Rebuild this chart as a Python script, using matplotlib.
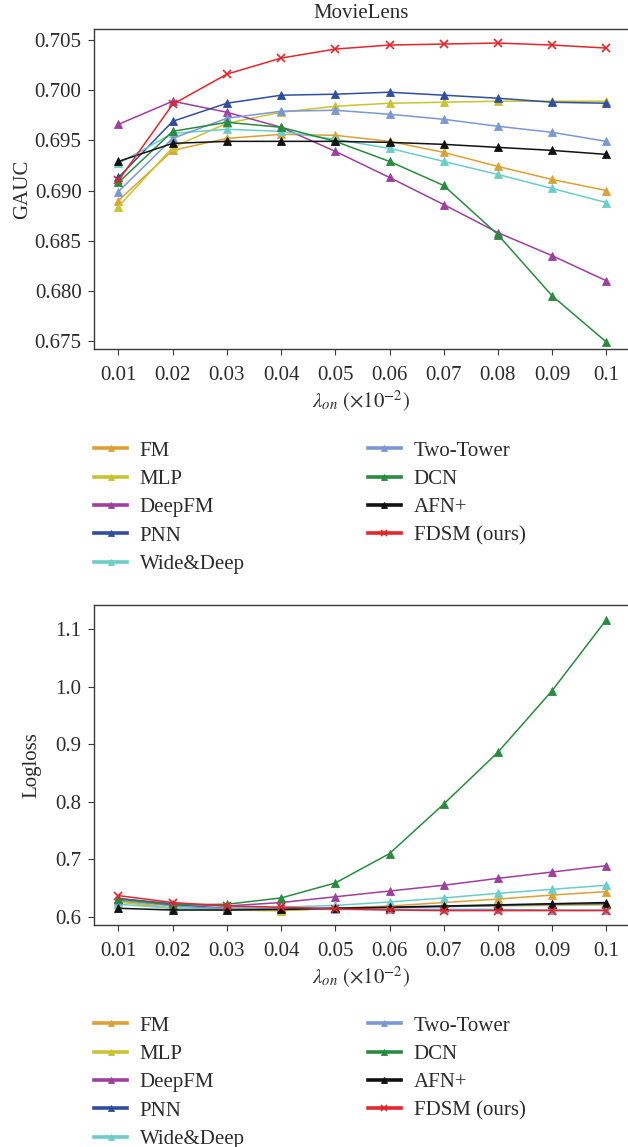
import matplotlib
matplotlib.use("Agg")
import matplotlib.pyplot as plt
from matplotlib.ticker import FixedLocator, FixedFormatter

plt.rcParams['font.family'] = ['Liberation Serif', 'DejaVu Serif']
plt.rcParams['mathtext.fontset'] = 'stix'

x_labels = ['0.01', '0.02', '0.03', '0.04', '0.05', '0.06', '0.07', '0.08', '0.09', '0.1']
models = ['FM', 'MLP', 'DeepFM', 'PNN', 'Wide&Deep', 'Two-Tower', 'DCN', 'AFN+', 'FDSM (ours)']
colors = ['#DBA134', '#C9C231', '#9E3E9E', '#2F4E9F', '#6ACDC9', '#7B98D4', '#2A8A3E', '#111111', '#E2262B']
markers = ['^', '^', '^', '^', '^', '^', '^', '^', 'x']

gauc_fm = [0.6890, 0.6940, 0.6952, 0.6956, 0.6955, 0.6949, 0.6938, 0.6924, 0.6911, 0.6900]
gauc_mlp = [0.6884, 0.6943, 0.6967, 0.6978, 0.6984, 0.6987, 0.6988, 0.6989, 0.6989, 0.6989]
gauc_deepfm = [0.6966, 0.6989, 0.6978, 0.6963, 0.6939, 0.6913, 0.6886, 0.6858, 0.6835, 0.6810]
gauc_pnn = [0.6913, 0.6969, 0.6987, 0.6995, 0.6996, 0.6998, 0.6995, 0.6992, 0.6988, 0.6987]
gauc_wd = [0.6927, 0.6957, 0.6961, 0.6959, 0.6951, 0.6942, 0.6929, 0.6916, 0.6902, 0.6888]
gauc_tt = [0.6899, 0.6952, 0.6972, 0.6979, 0.6980, 0.6976, 0.6971, 0.6964, 0.6958, 0.6949]
gauc_dcn = [0.6908, 0.6959, 0.6968, 0.6963, 0.6949, 0.6929, 0.6905, 0.6856, 0.6795, 0.6749]
gauc_afn = [0.6929, 0.6947, 0.6949, 0.6949, 0.6949, 0.6948, 0.6946, 0.6943, 0.6940, 0.6936]
gauc_fdsm = [0.6910, 0.6986, 0.7016, 0.7032, 0.7041, 0.7045, 0.7046, 0.7047, 0.7045, 0.7042]

ll_fm = [0.628, 0.615, 0.612, 0.611, 0.615, 0.619, 0.625, 0.631, 0.638, 0.644]
ll_mlp = [0.626, 0.615, 0.612, 0.611, 0.615, 0.616, 0.618, 0.619, 0.620, 0.621]
ll_deepfm = [0.632, 0.623, 0.619, 0.625, 0.635, 0.645, 0.655, 0.667, 0.678, 0.689]
ll_pnn = [0.632, 0.621, 0.615, 0.615, 0.615, 0.616, 0.618, 0.620, 0.622, 0.623]
ll_wd = [0.622, 0.615, 0.615, 0.617, 0.620, 0.626, 0.633, 0.641, 0.648, 0.655]
ll_tt = [0.629, 0.619, 0.614, 0.614, 0.613, 0.613, 0.613, 0.613, 0.612, 0.612]
ll_dcn = [0.631, 0.621, 0.622, 0.633, 0.659, 0.710, 0.796, 0.886, 0.993, 1.116]
ll_afn = [0.615, 0.612, 0.612, 0.613, 0.615, 0.617, 0.619, 0.621, 0.623, 0.625]
ll_fdsm = [0.637, 0.625, 0.619, 0.617, 0.614, 0.612, 0.611, 0.611, 0.611, 0.611]

gauc = [gauc_fm, gauc_mlp, gauc_deepfm, gauc_pnn, gauc_wd, gauc_tt, gauc_dcn, gauc_afn, gauc_fdsm]
logloss = [ll_fm, ll_mlp, ll_deepfm, ll_pnn, ll_wd, ll_tt, ll_dcn, ll_afn, ll_fdsm]

gauc_ticks = [0.675, 0.680, 0.685, 0.690, 0.695, 0.700, 0.705]
ll_ticks = [0.6, 0.7, 0.8, 0.9, 1.0, 1.1]

W, H = 628, 1147
fig = plt.figure(figsize=(W / 100, H / 100), dpi=100)

def frac_axes(left, top, right, bottom):
    return fig.add_axes([left / W, 1 - bottom / H, (right - left) / W, (bottom - top) / H])

ax1 = frac_axes(94, 29, 628, 349)
ax2 = frac_axes(94, 605, 628, 925)

xs = list(range(1, len(x_labels) + 1))
text_color = '#2b2b2b'
FS = 15

def style(ax, data, ylabel, ticks, fmt, ylim, ylabelpad):
    for name, vals, c, m in zip(models, data, colors, markers):
        ax.plot(xs, vals, color=c, marker=m, markersize=6, linewidth=1.1,
                markeredgewidth=1.2 if m == 'x' else 0.6, label=name)
    ax.set_xlim(0.548, 10.40)
    ax.set_ylim(*ylim)
    ax.xaxis.set_major_locator(FixedLocator(xs))
    ax.xaxis.set_major_formatter(FixedFormatter(x_labels))
    ax.yaxis.set_major_locator(FixedLocator(ticks))
    ax.yaxis.set_major_formatter(FixedFormatter([fmt.format(t) for t in ticks]))
    ax.spines['right'].set_visible(False)
    for s in ['top', 'left', 'bottom']:
        ax.spines[s].set_color('#3a3a3a')
        ax.spines[s].set_linewidth(1.0)
    ax.tick_params(axis='both', direction='out', length=4, width=0.8, color='#3a3a3a',
                   labelsize=FS, labelcolor=text_color)
    ax.tick_params(axis='x', pad=8)
    ax.tick_params(axis='y', pad=5)
    ax.set_ylabel(ylabel, fontsize=FS, color=text_color, labelpad=ylabelpad)
    ax.set_xlabel(r'$\lambda_{on}\ (\times 10^{-2})$', fontsize=FS, color=text_color, labelpad=3)

style(ax1, gauc, 'GAUC', gauc_ticks, '{:.3f}', (0.6742, 0.7061), 2)
style(ax2, logloss, 'Logloss', ll_ticks, '{:.1f}', (0.586, 1.1417), 10)
ax1.set_title('MovieLens', fontsize=FS, color=text_color, pad=8)

def add_legend(ax, top_px):
    handles, labels = ax.get_legend_handles_labels()
    leg = fig.legend(handles, labels, loc='upper left', bbox_to_anchor=(94 / W, 1 - top_px / H),
                     ncol=2, frameon=False, fontsize=FS, handlelength=1.6, handletextpad=0.6,
                     columnspacing=5.9, labelspacing=0.42, borderpad=0, borderaxespad=0,
                     markerscale=0.65, labelcolor=text_color)
    for ln in leg.get_lines():
        ln.set_linewidth(2.6)
    return leg

add_legend(ax1, 441)
add_legend(ax2, 1016)

fig.savefig('out.png', dpi=100)
